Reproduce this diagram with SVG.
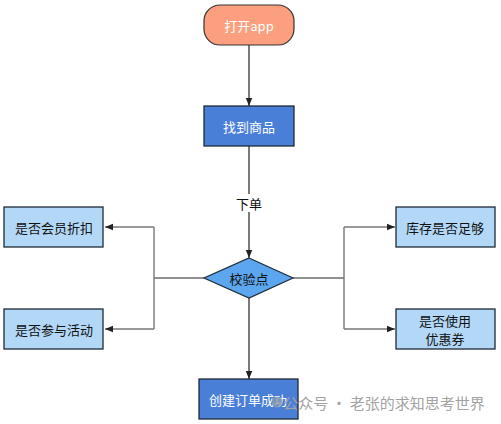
<svg xmlns="http://www.w3.org/2000/svg" width="501" height="424" viewBox="0 0 501 424">
<style>
text{font-family:"Noto Sans CJK SC","Noto Sans",sans-serif;font-size:13px;text-anchor:middle;dominant-baseline:central}
.dark{fill:#4a7fd8;stroke:#1f2a36;stroke-width:1.3}
.light{fill:#b3d8f7;stroke:#1f2a36;stroke-width:1.3}
.w{fill:#ffffff}
.k{fill:#111111}
.ln{fill:none;stroke:#222;stroke-width:1.2}
.gl{fill:none;stroke:#777;stroke-width:1.4}
.wm{fill:#a3a3a3;font-size:15px}
</style>
<defs>
<marker id="ar" viewBox="0 0 10 10" refX="10" refY="5" markerWidth="8" markerHeight="8" markerUnits="userSpaceOnUse" orient="auto">
<path d="M0,1 L10,5 L0,9 z" fill="#222"/>
</marker>
</defs>
<rect width="501" height="424" fill="#fff"/>
<g id="connectors">
<path class="ln" d="M249,45 V106" marker-end="url(#ar)"/>
<path class="ln" d="M249,146 V194"/>
<path class="ln" d="M249,212 V258" marker-end="url(#ar)"/>
<path class="ln" d="M249,298 V379" marker-end="url(#ar)"/>
<path class="ln" d="M204,278 H154"/>
<path class="gl" d="M154,227 V329"/>
<path class="gl" d="M154,227 H105" marker-end="url(#ar)"/>
<path class="gl" d="M154,329 H105" marker-end="url(#ar)"/>
<path class="ln" d="M293,278 H344"/>
<path class="gl" d="M344,227 V329"/>
<path class="gl" d="M344,227 H395" marker-end="url(#ar)"/>
<path class="gl" d="M344,329 H395" marker-end="url(#ar)"/>
<text x="249" y="203" class="k">下单</text>
</g>
<g id="start">
<rect x="204" y="5" width="90" height="40" rx="16" fill="#fc9f7f" stroke="#333" stroke-width="1.2"/>
<text x="249" y="25" class="w">打开app</text>
</g>
<g id="find">
<rect class="dark" x="204" y="106" width="90" height="40"/>
<text x="249" y="126" class="w">找到商品</text>
</g>
<g id="check">
<polygon points="249,258 293,278 249,298 204,278" fill="#5ba6ee" stroke="#1f2a36" stroke-width="1.2"/>
<text x="249" y="278" class="k">校验点</text>
</g>
<g id="member">
<rect class="light" x="4" y="207" width="99" height="40"/>
<text x="54" y="227" class="k">是否会员折扣</text>
</g>
<g id="activity">
<rect class="light" x="4" y="309" width="99" height="40"/>
<text x="54" y="329" class="k">是否参与活动</text>
</g>
<g id="stock">
<rect class="light" x="396" y="207" width="99" height="40"/>
<text x="445" y="227" class="k">库存是否足够</text>
</g>
<g id="coupon">
<rect class="light" x="396" y="309" width="99" height="40"/>
<text x="445" y="320" class="k">是否使用</text>
<text x="445" y="338" class="k">优惠券</text>
</g>
<g id="success">
<rect class="dark" x="199" y="379" width="99" height="40"/>
<text x="248" y="399" class="w">创建订单成功</text>
</g>
<g id="watermark">
<circle cx="277" cy="402" r="5.5" fill="#8a9bb0" opacity="0.8"/>
<text x="384" y="402" class="wm">公众号 · 老张的求知思考世界</text>
</g>
</svg>
